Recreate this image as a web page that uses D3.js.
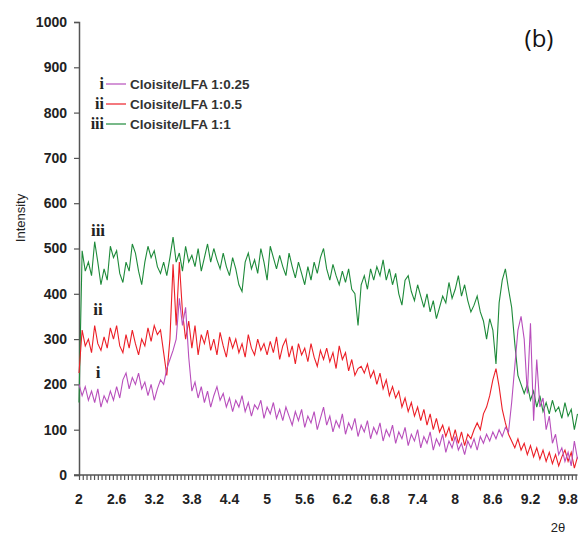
<!DOCTYPE html>
<html>
<head>
<meta charset="utf-8">
<script src="https://cdn.jsdelivr.net/npm/d3@7"></script>
<style>
  body { margin: 0; background: #fff; }
  svg { display: block; }
  text { font-family: "Liberation Sans", Arial, sans-serif; }
</style>
</head>
<body>
<div class="chart"></div>
<script>
// XRD patterns, sampled every 0.05 deg 2theta from 2.00 to 9.95
var w = 580, h = 535;
var twoTheta = d3.range(160).map(function(i) { return +(2 + i * 0.05).toFixed(2); });

var seriesNames = ["Cloisite/LFA 1:0.25", "Cloisite/LFA 1:0.5", "Cloisite/LFA 1:1"];
var seriesTags = ["i", "ii", "iii"];
var seriesColors = ["#b84fbc", "#ec1f27", "#1e8a3a"];

// i  : Cloisite/LFA 1:0.25
var intensityI = [
  200, 175, 195, 165, 185, 160, 190, 150, 175, 160,
  185, 165, 195, 170, 210, 225, 190, 215, 200, 225,
  190, 205, 175, 200, 165, 190, 210, 200, 235, 255,
  275, 300, 390, 330, 370, 260, 185, 205, 170, 195,
  160, 185, 150, 175, 195, 165, 180, 150, 170, 140,
  165, 150, 175, 140, 160, 130, 155, 145, 165, 125,
  150, 135, 160, 125, 145, 120, 150, 130, 110, 140,
  120, 145, 105, 130, 115, 140, 100, 125, 150, 110,
  130, 95, 120, 105, 135, 90, 115, 100, 125, 85,
  110, 95, 120, 80, 105, 90, 115, 75, 100, 85,
  110, 70, 95, 80, 105, 65, 90, 75, 100, 60,
  85, 70, 95, 55, 80, 65, 90, 50, 75, 60,
  85, 55, 70, 45, 75, 60, 80, 55, 85, 70,
  90, 75, 95, 80, 100, 85, 105, 95, 160, 240,
  320, 350, 300, 180, 335, 120, 255, 150, 170, 100,
  130, 70, 90, 45, 60, 30, 50, 20, 75, 35
];
// ii : Cloisite/LFA 1:0.5
var intensityII = [
  225, 320, 285, 300, 270, 330, 290, 275, 305, 280,
  325, 300, 330, 285, 270, 310, 280, 320, 290, 265,
  300, 285, 325, 295, 330, 310, 320, 270, 220, 300,
  465, 330, 470, 360, 300, 340, 280, 330, 265, 310,
  290, 320, 275, 300, 265, 315, 285, 260, 305, 280,
  300, 270, 290, 260, 310, 280, 265, 300, 275, 290,
  265, 295, 270, 305, 255, 285, 300, 260, 285, 245,
  290, 265, 280, 250, 290, 260, 240, 275, 255, 280,
  250, 270, 235, 285, 255, 270, 230, 255, 220, 235,
  240, 225, 245, 215, 230, 200, 225, 190, 210, 175,
  195, 170, 185, 150, 170, 140, 160, 130, 150, 120,
  145, 110, 135, 100, 125, 95, 110, 85, 105, 75,
  100, 70, 95, 65, 90, 80, 100, 115, 100, 135,
  150, 175, 210, 235, 195, 145, 115, 90, 75, 60,
  80, 55, 70, 45, 65, 40, 60, 35, 55, 30,
  50, 25, 45, 20, 40, 55, 30, 50, 15, 40
];
// iii : Cloisite/LFA 1:1
var intensityIII = [
  160, 495, 450, 470, 440, 515, 470, 420, 455, 430,
  505, 480, 495, 445, 425, 470, 450, 510, 490, 450,
  420, 470, 505, 480, 495, 460, 445, 470, 440, 480,
  525, 470, 490, 450, 505, 470, 485, 460, 500, 450,
  480, 510, 470, 500, 475, 455, 490, 460, 440, 480,
  455, 420, 405, 470, 490, 455, 475, 445, 500, 470,
  430, 505, 480, 455, 485, 460, 440, 490, 460, 435,
  470, 445, 420, 460, 430, 470, 445, 480, 500, 455,
  430, 465, 440, 420, 450, 425, 455, 410, 400, 330,
  420, 440, 410, 455, 430, 460, 440, 475, 430, 455,
  420, 445, 400, 375, 430, 440, 405, 385, 420, 395,
  370, 400, 360, 385, 345, 370, 395, 380, 425, 390,
  410, 440, 395, 420, 385, 360, 375, 395, 360, 340,
  300, 345, 320, 245, 380, 430, 455, 410, 370, 290,
  220, 200, 180, 200, 165, 185, 150, 175, 140, 160,
  135, 165, 140, 150, 125, 160, 130, 145, 100, 135
];
var seriesValues = [intensityI, intensityII, intensityIII];

var yTicks = [0, 100, 200, 300, 400, 500, 600, 700, 800, 900, 1000];
var xTickLabels = [2, 2.6, 3.2, 3.8, 4.4, 5, 5.6, 6.2, 6.8, 7.4, 8, 8.6, 9.2, 9.8];

var x = d3.scaleLinear().domain([2, 9.95]).range([79, 577.5]);
var y = d3.scaleLinear().domain([0, 1000]).range([475, 22]);

var svg = d3.select(".chart")
    .append("svg")
    .attr("width", w)
    .attr("height", h);

// y axis
var yAxis = d3.axisLeft(y)
    .tickValues(yTicks)
    .tickSize(5)
    .tickPadding(7)
    .tickFormat(d3.format("d"));
var gy = svg.append("g")
    .attr("transform", "translate(" + x(2) + ",0)")
    .call(yAxis);
gy.select(".domain").attr("stroke", "#555").attr("stroke-width", 1.5);
gy.selectAll(".tick line").attr("stroke", "#555").attr("stroke-width", 1.2);
gy.selectAll(".tick text")
    .style("font-size", "14px")
    .style("font-weight", "bold")
    .attr("fill", "#222");

// x axis: small ticks every 0.06, labels every 0.6
var xAxis = d3.axisBottom(x)
    .tickValues(d3.range(2, 9.95, 0.06))
    .tickSize(5)
    .tickFormat("");
var gx = svg.append("g")
    .attr("transform", "translate(0," + y(0) + ")")
    .call(xAxis);
gx.select(".domain").attr("d", "M74,0H577.5").attr("stroke", "#555").attr("stroke-width", 1.5);
gx.selectAll(".tick line").attr("stroke", "#555").attr("stroke-width", 1.2);

svg.append("g")
    .selectAll("text")
    .data(xTickLabels)
    .enter()
    .append("text")
    .attr("x", function(d) { return x(d); })
    .attr("y", y(0) + 29)
    .attr("text-anchor", "middle")
    .style("font-size", "14px")
    .style("font-weight", "bold")
    .attr("fill", "#222")
    .text(function(d) { return d; });

// axis titles
svg.append("text")
    .attr("transform", "translate(25,218) rotate(-90)")
    .attr("text-anchor", "middle")
    .style("font-size", "13px")
    .attr("fill", "#222")
    .text("Intensity");

svg.append("text")
    .attr("x", 558)
    .attr("y", 532)
    .attr("text-anchor", "middle")
    .style("font-size", "13px")
    .attr("fill", "#222")
    .text("2θ");

svg.append("text")
    .attr("x", 539)
    .attr("y", 47)
    .attr("text-anchor", "middle")
    .style("font-family", "'Open Sans', sans-serif")
    .style("font-size", "24px")
    .attr("fill", "#111")
    .text("(b)");

// curves
var line = d3.line()
    .x(function(d, i) { return x(twoTheta[i]); })
    .y(function(d) { return y(d); });

var drawOrder = [2, 1, 0];
svg.append("g")
    .selectAll("path")
    .data(drawOrder)
    .enter()
    .append("path")
    .attr("d", function(k) { return line(seriesValues[k]); })
    .attr("fill", "none")
    .attr("stroke", function(k) { return seriesColors[k]; })
    .attr("stroke-width", 1.1);

// curve tags
var tagPos = [[98, 378], [98, 315], [98, 236]];
svg.append("g")
    .selectAll("text")
    .data(seriesTags)
    .enter()
    .append("text")
    .attr("x", function(d, i) { return tagPos[i][0]; })
    .attr("y", function(d, i) { return tagPos[i][1]; })
    .attr("text-anchor", "middle")
    .style("font-family", "'Liberation Serif', 'Times New Roman', serif")
    .style("font-size", "17px")
    .style("font-weight", "bold")
    .attr("fill", "#222")
    .text(function(d) { return d; });

// legend
var legend = svg.append("g")
    .selectAll("g")
    .data(seriesNames)
    .enter()
    .append("g")
    .attr("transform", function(d, i) { return "translate(0," + (84 + i * 20) + ")"; });

legend.append("text")
    .attr("x", 104)
    .attr("y", 5)
    .attr("text-anchor", "end")
    .style("font-family", "'Liberation Serif', 'Times New Roman', serif")
    .style("font-size", "16px")
    .style("font-weight", "bold")
    .attr("fill", "#222")
    .text(function(d, i) { return seriesTags[i]; });

legend.append("line")
    .attr("x1", 106).attr("x2", 126)
    .attr("y1", 0).attr("y2", 0)
    .attr("stroke", function(d, i) { return seriesColors[i]; })
    .attr("stroke-width", 1.2);

legend.append("text")
    .attr("x", 130)
    .attr("y", 5)
    .style("font-size", "13.5px")
    .style("font-weight", "bold")
    .attr("fill", "#333")
    .text(function(d) { return d; });
</script>
</body>
</html>
